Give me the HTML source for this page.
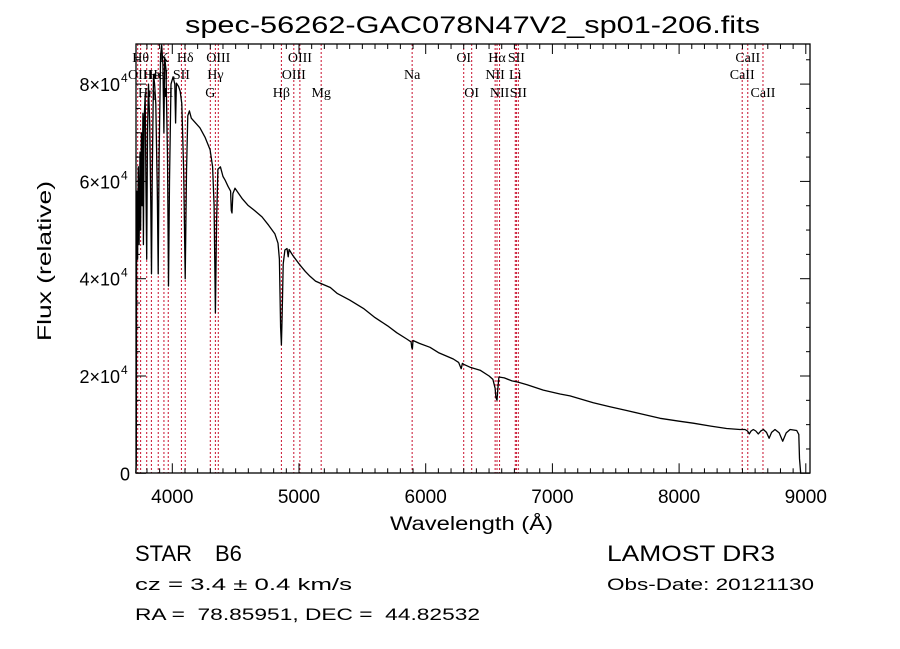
<!DOCTYPE html>
<html><head><meta charset="utf-8"><style>
html,body{margin:0;padding:0;background:#fff;}
svg{display:block;}
text{font-family:"Liberation Sans",sans-serif;fill:#000;white-space:pre;}
text.ll{font-family:"Liberation Serif",serif;}
</style></head><body>
<svg id="chart" width="900" height="649" viewBox="0 0 900 649" xmlns="http://www.w3.org/2000/svg" xml:space="preserve">
<rect width="900" height="649" fill="#fff"/>
<text x="185" y="33" font-size="24" textLength="575" lengthAdjust="spacingAndGlyphs">spec-56262-GAC078N47V2_sp01-206.fits</text>
<g id="lines"></g>
<g id="labels"></g>
<path id="spec" fill="none" stroke="#000" stroke-width="1.3" stroke-linejoin="round"/>
<rect x="136" y="44" width="674" height="429" fill="none" stroke="#000" stroke-width="1.3"/>
<g id="ticks"></g>
<g id="xlabels"></g>
<g id="ylabels"></g>
<text x="390" y="530" font-size="19" textLength="163" lengthAdjust="spacingAndGlyphs">Wavelength (Å)</text>
<text transform="translate(51,341) rotate(-90)" font-size="19" textLength="160" lengthAdjust="spacingAndGlyphs">Flux (relative)</text>
<text x="135" y="561" font-size="22">STAR</text>
<text x="215" y="561" font-size="22">B6</text>
<text x="607" y="561" font-size="22" textLength="168" lengthAdjust="spacingAndGlyphs">LAMOST DR3</text>
<text x="135" y="590" font-size="17" textLength="217" lengthAdjust="spacingAndGlyphs">cz = 3.4 ± 0.4 km/s</text>
<text x="607" y="590" font-size="17" textLength="207" lengthAdjust="spacingAndGlyphs">Obs-Date: 20121130</text>
<text x="135" y="620" font-size="17" textLength="345" lengthAdjust="spacingAndGlyphs">RA =  78.85951, DEC =  44.82532</text>
</svg>
<script>
const wave=[3712,3716,3718,3722,3726,3732,3738,3745,3750,3756,3762,3768,3772,3778,3786,3792,3798,3804,3812,3822,3830,3836,3842,3852,3860,3870,3882,3889,3896,3908,3916,3926,3934,3940,3950,3962,3970,3978,3990,4006,4020,4026,4032,4050,4062,4075,4090,4102,4112,4122,4135,4150,4219,4260,4298,4318,4330,4340,4350,4360,4380,4400,4416,4440,4460,4466,4471,4478,4495,4550,4597,4650,4708,4760,4810,4834,4845,4855,4861,4867,4875,4889,4905,4915,4922,4950,5008,5050,5087,5130,5166,5247,5300,5400,5508,5600,5700,5771,5850,5885,5890,5895,5900,5950,6034,6100,6218,6260,6280,6290,6300,6350,6429,6500,6530,6548,6555,6563,6570,6578,6620,6680,6718,6800,6928,7060,7139,7323,7450,7586,7700,7849,8000,8112,8250,8375,8480,8520,8540,8554,8568,8586,8605,8625,8645,8665,8690,8710,8730,8757,8790,8818,8845,8876,8928,8945,8950,8960];
const flux=[0,2000,45000,58000,44000,63000,47000,66000,50000,70000,55000,74000,47000,73000,78000,60000,44000,70000,80000,72000,55000,41000,62000,82000,80000,76000,58000,41000,65000,86000,88000,84000,70000,85500,83000,65000,38500,60000,80000,81500,80000,72000,80200,79500,78500,76000,62000,40000,62000,73500,74500,73000,71000,69000,66500,63000,55000,33000,52000,62500,63000,61000,60300,59000,58000,54000,53500,57500,58600,56500,55100,54000,52700,51000,49200,47300,44000,30000,26400,32000,43000,45900,46200,44500,46000,44800,42800,41500,40500,39500,39100,38200,37000,35600,33900,32000,30300,28900,27600,27000,25800,25600,27300,26700,25900,24800,23500,22800,21500,22600,22400,21800,21200,20000,19300,17500,15500,15000,17500,19800,19600,19000,18800,18200,17100,16300,15900,14500,13700,12900,12200,11300,10700,10300,9700,9200,9000,9000,8700,8100,8700,9000,8700,8100,8700,9000,8400,7200,8400,9000,8300,6600,8300,9000,8800,8000,3000,0];
const lineWaves=[3727,3750,3798,3835,3889,3934,3968,4072,4102,4300,4340,4363,4861,4959,5007,5175,5893,6300,6363,6548,6563,6583,6707,6716,6731,8498,8542,8662];
const lineLabels=["OII","Hθ","Hη","He","HeI","K","H","SII","Hδ","G","Hγ","OIII","Hβ","OIII","OIII","Mg","Na","OI","OI","NII","Hα","NII","Li","SII","SII","CaII","CaII","CaII"];
const lineRows=[1,0,2,1,1,0,2,1,0,2,1,0,2,1,0,2,1,0,2,1,0,2,1,0,2,1,0,2];
const xTicks=["4000","5000","6000","7000","8000","9000"];
const yTicks=[0,20000,40000,60000,80000];
const yTickLabels=["0","2×10","4×10","6×10","8×10"];

const NS="http://www.w3.org/2000/svg";
const X0=136,X1=810,Y0=44,Y1=473.3;
function xs(w){return 172.3+(w-4000)*0.1267;}
function ys(f){return 473.3-f*97.3/20000;}
function mk(tag,attrs,parent){const e=document.createElementNS(NS,tag);for(const k in attrs)e.setAttribute(k,attrs[k]);parent.appendChild(e);return e;}

let d="";
for(let i=0;i<wave.length;i++){d+=(i?"L":"M")+xs(wave[i]).toFixed(1)+","+ys(flux[i]).toFixed(1);}
document.getElementById("spec").setAttribute("d",d);

const gl=document.getElementById("lines"),gt=document.getElementById("labels");
const rowY=[62,79,97];
for(let i=0;i<lineWaves.length;i++){
  const x=xs(lineWaves[i]);
  const l=mk("line",{x1:x,x2:x,y1:Y0,y2:Y1,stroke:"#c8102e","stroke-width":1,"stroke-dasharray":"2,2"},gl);
  
  
  const t=mk("text",{x:x,y:rowY[lineRows[i]],"font-size":14,"text-anchor":"middle","class":"ll"},gt);
  t.textContent=lineLabels[i];
  
  
}

const gk=document.getElementById("ticks");
for(let w=3800;w<=9000;w+=100){
  const x=xs(w);const major=(w%1000===0);const len=major?10:5;
  mk("line",{x1:x,x2:x,y1:Y1,y2:Y1-len,stroke:"#000","stroke-width":1},gk);
  mk("line",{x1:x,x2:x,y1:Y0,y2:Y0+len,stroke:"#000","stroke-width":1},gk);
}
for(let f=0;f<=85000;f+=5000){
  const y=ys(f);const major=(f%20000===0);const len=major?10:4;
  mk("line",{x1:X0,x2:X0+len,y1:y,y2:y,stroke:"#000","stroke-width":1},gk);
  mk("line",{x1:X1,x2:X1-len,y1:y,y2:y,stroke:"#000","stroke-width":1},gk);
}
const gx=document.getElementById("xlabels");
for(let i=0;i<xTicks.length;i++){
  const t=mk("text",{x:xs(+xTicks[i]),y:503,"font-size":19,"text-anchor":"middle"},gx);
  t.textContent=xTicks[i];
  
  
}
const gy=document.getElementById("ylabels");
for(let i=0;i<yTicks.length;i++){
  const y=ys(yTicks[i])+7;
  const t=mk("text",{x:yTicks[i]===0?130:120,y:y,"font-size":18,"text-anchor":"end"},gy);
  t.textContent=yTickLabels[i];
  
  
  if(yTicks[i]!==0){
    const s=mk("text",{x:121,y:y-9,"font-size":12},gy);
    s.textContent="4";
    
    
  }
}
</script>
</body></html>
